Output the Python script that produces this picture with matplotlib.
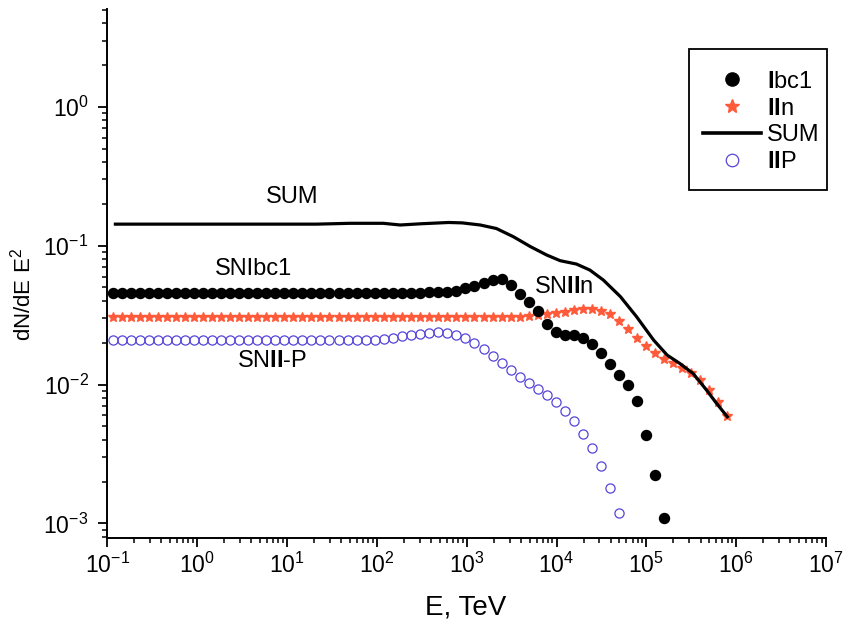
import matplotlib
matplotlib.use("Agg")
import matplotlib.pyplot as plt
import numpy as np
from matplotlib.lines import Line2D
from matplotlib.patches import Rectangle
from matplotlib.ticker import LogLocator, NullFormatter

plt.rcParams['font.family'] = ['Liberation Sans', 'DejaVu Sans']
plt.rcParams['mathtext.fontset'] = 'custom'
plt.rcParams['mathtext.rm'] = 'Liberation Sans'
plt.rcParams['mathtext.it'] = 'Liberation Sans'
plt.rcParams['mathtext.bf'] = 'Liberation Sans:bold'

# log10(E / TeV) of the plotted points (same grid for all three SN types)
log_e = [-0.94, -0.84, -0.74, -0.64, -0.54, -0.44, -0.34, -0.24, -0.14, -0.03,
         0.07, 0.17, 0.27, 0.37, 0.47, 0.57, 0.67, 0.77, 0.87, 0.97,
         1.07, 1.17, 1.27, 1.37, 1.47, 1.58, 1.68, 1.78, 1.88, 1.98,
         2.08, 2.18, 2.28, 2.38, 2.48, 2.58, 2.68, 2.78, 2.88, 2.98,
         3.08, 3.19, 3.29, 3.39, 3.49, 3.59, 3.69, 3.79, 3.89, 3.99,
         4.09, 4.19, 4.29, 4.39, 4.49, 4.59, 4.69, 4.79, 4.89, 5.00,
         5.10, 5.20, 5.30, 5.40, 5.50, 5.60, 5.70, 5.80, 5.90]

ibc1 = [0.0455] * 32 + [
    0.0455, 0.0458, 0.0458, 0.0461, 0.0461, 0.0463, 0.0474, 0.0493, 0.0513, 0.0536,
    0.0566, 0.0572, 0.0518, 0.0450, 0.0392, 0.0336, 0.0273, 0.0240, 0.0227, 0.0227,
    0.0218, 0.0195, 0.0170, 0.0141, 0.0117, 0.0100, 0.00755, 0.00435, 0.00223, 0.00110]

iin = [0.0308] * 46 + [
    0.0311, 0.0315, 0.0322, 0.0326, 0.0334, 0.0344, 0.0351, 0.0352, 0.0340, 0.0320,
    0.0286, 0.0250, 0.0216, 0.0191, 0.0170, 0.0153, 0.0143, 0.0132, 0.0122, 0.0108,
    0.00912, 0.00751, 0.00592]

iip = [0.0209] * 30 + [
    0.0212, 0.0217, 0.0223, 0.0226, 0.0230, 0.0234, 0.0238, 0.0237, 0.0229, 0.0215,
    0.0199, 0.0180, 0.0160, 0.0143, 0.0127, 0.0114, 0.0103, 0.00929, 0.00845, 0.00745,
    0.00648, 0.00543, 0.00442, 0.00349, 0.00259, 0.00180, 0.00118]

sum_log_e = [-0.91, 1.33, 1.70, 2.07, 2.26, 2.50, 2.80, 2.95, 3.15, 3.33,
             3.52, 3.71, 3.89, 4.04, 4.22, 4.37, 4.52, 4.71, 4.89, 5.08,
             5.23, 5.37, 5.52, 5.67, 5.78, 5.90]
sum_val = [0.143, 0.143, 0.145, 0.145, 0.141, 0.144, 0.147, 0.146, 0.141, 0.133,
           0.116, 0.0984, 0.0857, 0.078, 0.0738, 0.0668, 0.0566, 0.043, 0.0308, 0.0209,
           0.0163, 0.0142, 0.012, 0.0091, 0.00732, 0.00586]

x_ticks = [1e-1, 1e0, 1e1, 1e2, 1e3, 1e4, 1e5, 1e6, 1e7]
y_ticks = [1e-3, 1e-2, 1e-1, 1e0]

star_col = '#ff5a3a'
circ_col = '#5545d8'

E = 10 ** np.array(log_e)
E_sum = 10 ** np.array(sum_log_e)

fig = plt.figure(figsize=(8.43, 6.26), dpi=100)
ax = fig.add_axes([0.1273, 0.1398, 0.8527, 0.8458])

ax.plot(E[:len(iip)], iip, ls='none', marker='o', ms=6.6, mfc='none',
        mec=circ_col, mew=0.9)
ax.plot(E[:len(iin)], iin, ls='none', marker='*', ms=7, color=star_col,
        mec=star_col)
ax.plot(E[:len(ibc1)], ibc1, ls='none', marker='o', ms=7.2, color='black')
ax.plot(E_sum, sum_val, color='black', lw=2.3)

ax.set_xscale('log')
ax.set_yscale('log')
ax.set_xlim(0.1, 1e7)
ax.set_ylim(7.78e-4, 5.07)

ax.set_xticks(x_ticks)
ax.set_yticks(y_ticks)
ax.xaxis.set_minor_locator(LogLocator(base=10, subs=np.arange(2, 10), numticks=20))
ax.xaxis.set_minor_formatter(NullFormatter())
ax.yaxis.set_minor_locator(LogLocator(base=10, subs=np.arange(2, 10), numticks=20))
ax.yaxis.set_minor_formatter(NullFormatter())

for s in ['top', 'right']:
    ax.spines[s].set_visible(False)
for s in ['left', 'bottom']:
    ax.spines[s].set_linewidth(1.4)

ax.tick_params(which='major', direction='out', length=6.5, width=1.3,
               labelsize=16.5, pad=4)
ax.tick_params(which='minor', direction='out', length=3.4, width=1.1)
ax.tick_params(axis='y', which='major', pad=7)

ax.set_xlabel('E, TeV', fontsize=20)
ax.xaxis.set_label_coords(0.499, -0.105)
ax.set_ylabel(r'dN/dE E$^2$', fontsize=16)
ax.yaxis.set_label_coords(-0.1, 0.46)

ax.text(11.4, 0.2245, 'SUM', fontsize=17, ha='center', va='center')
ax.text(4.26, 0.0679, 'SNIbc1', fontsize=17, ha='center', va='center')
ax.text(6.76, 0.01476, r'SN$\mathbf{II}$-P', fontsize=17, ha='center', va='center')
ax.text(11890, 0.0504, r'SN$\mathbf{II}$n', fontsize=17, ha='center', va='center')

# legend box drawn by hand so the padding matches the original
ax.add_patch(Rectangle((0.8093, 0.6582), 0.192, 0.2663, transform=ax.transAxes,
                       facecolor='white', edgecolor='black', lw=1.3,
                       zorder=4, clip_on=False))

handles = [
    Line2D([], [], ls='none', marker='o', ms=9.5, color='black'),
    Line2D([], [], ls='none', marker='*', ms=10, color=star_col),
    Line2D([], [], color='black', lw=2.6),
    Line2D([], [], ls='none', marker='o', ms=9, mfc='none', mec=circ_col, mew=0.9),
]
labels = [r'$\mathbf{I}$bc1', r'$\mathbf{II}$n', 'SUM', r'$\mathbf{II}$P']
leg = ax.legend(handles, labels, loc='center left', bbox_to_anchor=(0.8286, 0.7866),
                fontsize=17, frameon=False, handlelength=2.45, handletextpad=0.25,
                labelspacing=0.21, borderpad=0, borderaxespad=0)
leg.set_zorder(5)

fig.savefig('out.png', dpi=100)
